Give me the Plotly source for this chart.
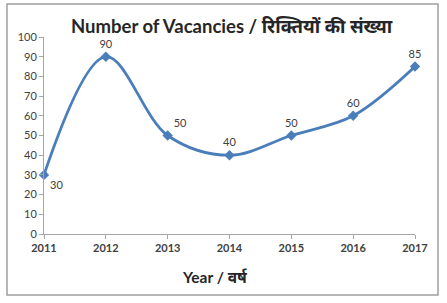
import plotly.graph_objects as go

years = [2011, 2012, 2013, 2014, 2015, 2016, 2017]
vacancies = [30, 90, 50, 40, 50, 60, 85]
label_pos = ["bottom right", "top center", "top right", "top center", "top center", "top center", "top center"]
y_ticks = [0, 10, 20, 30, 40, 50, 60, 70, 80, 90, 100]

W, H = 447, 303
L, R, T, B = 44, 32, 37, 69
pw, ph = W - L - R, H - T - B

def px(x):
    return (x - L) / pw

def py(y):
    return (H - B - y) / ph

fig = go.Figure()
fig.add_trace(go.Scatter(
    x=years, y=vacancies,
    mode="lines+markers+text",
    line=dict(color="#4A7EBB", width=2.8, shape="spline", smoothing=1.0),
    marker=dict(symbol="diamond", size=8, color="#4A7EBB"),
    text=[str(v) for v in vacancies],
    textposition=label_pos,
    textfont=dict(family="Lato, Open Sans, sans-serif", size=11, color="#404040"),
    cliponaxis=False,
    showlegend=False,
))

fig.update_layout(
    width=W, height=H,
    margin=dict(l=L, r=R, t=T, b=B),
    paper_bgcolor="white", plot_bgcolor="white",
    xaxis=dict(
        range=[2011, 2017], tickvals=years, ticktext=[str(y) for y in years],
        showgrid=False, zeroline=False, showline=True, linecolor="#A6A6A6", linewidth=1,
        ticks="outside", ticklen=4, tickcolor="#A6A6A6",
        tickfont=dict(family="Lato, sans-serif", size=11, color="#404040", weight="bold"),
    ),
    yaxis=dict(
        range=[0, 100], tickvals=y_ticks,
        showgrid=False, zeroline=False, showline=True, linecolor="#A6A6A6", linewidth=1,
        ticks="outside", ticklen=4, tickcolor="#A6A6A6",
        tickfont=dict(family="Lato, sans-serif", size=11, color="#404040"),
    ),
    shapes=[dict(
        type="rect", xref="paper", yref="paper",
        x0=px(7), x1=px(438), y0=py(295), y1=py(4),
        line=dict(color="#A0A0A0", width=1.5), fillcolor="rgba(0,0,0,0)", layer="below",
    )],
    annotations=[
        dict(text="<b>Number of Vacancies / रिक्तियों की संख्या</b>", xref="paper", yref="paper",
             x=px(232), y=py(26), showarrow=False, xanchor="center", yanchor="middle",
             font=dict(family="Lato, Noto Sans, sans-serif", size=18.5, color="#262626")),
        dict(text="<b>Year / वर्ष</b>", xref="paper", yref="paper",
             x=px(215), y=py(277), showarrow=False, xanchor="center", yanchor="middle",
             font=dict(family="Lato, Noto Sans, sans-serif", size=15.5, color="#262626")),
    ],
)

fig.write_html("out.html")
